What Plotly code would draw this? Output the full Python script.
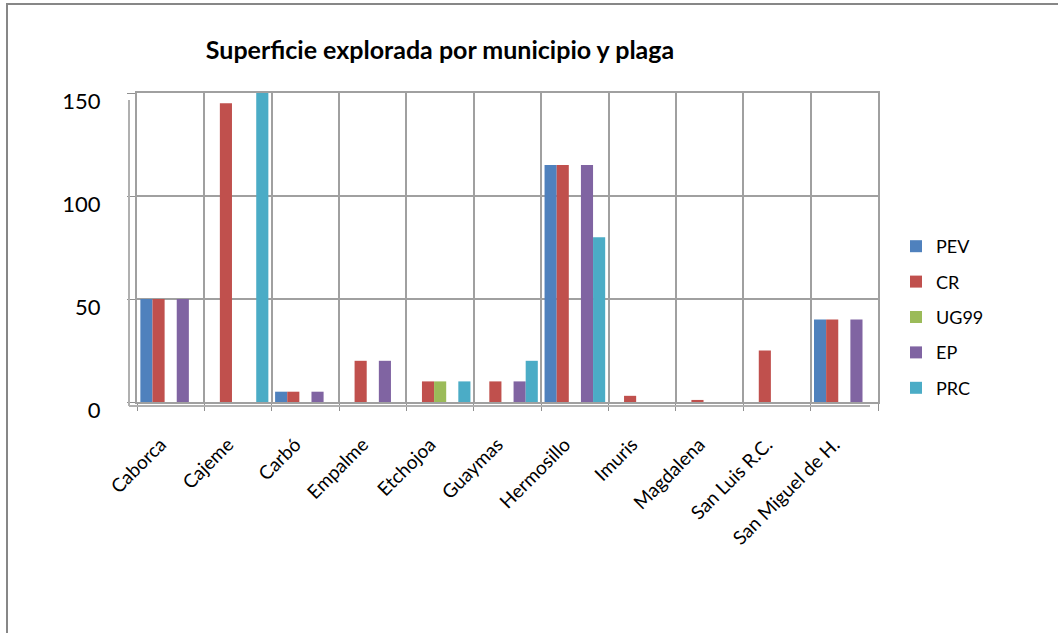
import plotly.graph_objects as go

municipios = ["Caborca", "Cajeme", "Carbó", "Empalme", "Etchojoa", "Guaymas",
              "Hermosillo", "Imuris", "Magdalena", "San Luis R.C.", "San Miguel de H."]
PEV  = [50, 0, 5, 0, 0, 0, 115, 0, 0, 0, 40]
CR   = [50, 145, 5, 20, 10, 10, 115, 3, 1, 25, 40]
UG99 = [0, 0, 0, 0, 10, 0, 0, 0, 0, 0, 0]
EP   = [50, 0, 5, 20, 0, 10, 115, 0, 0, 0, 40]
PRC  = [0, 150, 0, 0, 10, 20, 80, 0, 0, 0, 0]

series = [("PEV", PEV, "#4F81BD"), ("CR", CR, "#C0504D"), ("UG99", UG99, "#9BBB59"),
          ("EP", EP, "#8064A2"), ("PRC", PRC, "#4BACC6")]

W, H = 1058, 633
L, R, T, B = 137, 878, 93, 402

fig = go.Figure()
for name, vals, col in series:
    fig.add_trace(go.Bar(x=municipios, y=vals, name=name, marker_color=col,
                         marker_line_width=0, legendgroup=name))

def px(x):
    return (x - L) / (R - L)

def py(y):
    return (B - y) / (B - T)

font = "Lato, 'Open Sans', sans-serif"
fig.update_layout(
    width=W, height=H,
    margin=dict(l=L, r=W - R, t=T, b=H - B),
    paper_bgcolor="white", plot_bgcolor="white",
    barmode="group", bargap=0.1, bargroupgap=0,
    font=dict(family=font, size=17, color="black"),
    title=dict(text="<b>Superficie explorada por municipio y plaga</b>",
               x=px(440), xref="paper", xanchor="center",
               y=1 - 50 / H, yref="container", yanchor="middle",
               font=dict(size=25, family=font, color="black")),
    legend=dict(x=px(896), y=py(228), xanchor="left", yanchor="top",
                font=dict(size=18), tracegroupgap=9, itemwidth=30,
                bgcolor="rgba(0,0,0,0)"),
    showlegend=True,
)
fig.update_xaxes(type="category", tickson="boundaries", showgrid=True,
                 gridcolor="#a0a0a0", gridwidth=2, showline=True, mirror=True,
                 linecolor="#a0a0a0", linewidth=2, ticks="outside", ticklen=7,
                 tickcolor="#909090", tickangle=-45, tickfont=dict(size=19),
                 ticklabelshift=-10, ticklabelstandoff=22)
fig.update_yaxes(range=[0, 150], tickvals=[0, 50, 100, 150], showgrid=True,
                 gridcolor="#a0a0a0", gridwidth=2, showline=True, mirror=True,
                 linecolor="#a0a0a0", linewidth=2, ticks="outside", ticklen=8,
                 tickcolor="#909090", tickfont=dict(size=22), zeroline=False,
                 ticklabelshift=8, ticklabelstandoff=22)

# 3D-like front edges of the wall and floor
fig.add_shape(type="line", xref="paper", yref="paper",
              x0=px(129), x1=px(870), y0=py(406), y1=py(406),
              line=dict(color="#b0b0b0", width=2))
fig.add_shape(type="line", xref="paper", yref="paper",
              x0=px(129), x1=px(129), y0=py(100), y1=py(406),
              line=dict(color="#b0b0b0", width=2))
# chart outer border (top and left visible)
fig.add_shape(type="rect", xref="paper", yref="paper",
              x0=px(7), x1=px(1070), y0=py(4), y1=py(650),
              line=dict(color="#878787", width=2), layer="below")

fig.write_html("out.html", config={"displayModeBar": False},
               post_script="document.body.style.margin='0';document.body.style.overflow='hidden';")
